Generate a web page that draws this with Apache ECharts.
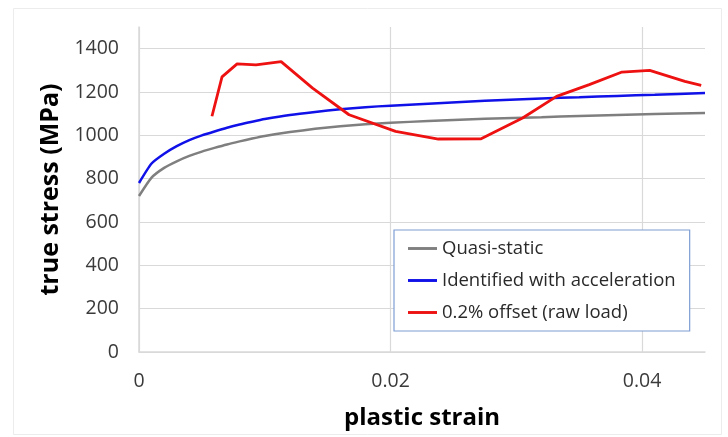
<!DOCTYPE html>
<html>
<head>
<meta charset="utf-8">
<script src="https://cdn.jsdelivr.net/npm/echarts@6/dist/echarts.min.js"></script>
<style>
html,body{margin:0;padding:0;background:#fff;}
#chart{width:728px;height:437px;}
</style>
</head>
<body>
<div id="chart"></div>
<script>
// ---- data ----
const quasiStrain = [0,0.001,0.002,0.003,0.004,0.005,0.006,0.007,0.008,0.009,0.010,0.012,0.014,0.016,0.018,0.020,0.023,0.026,0.029,0.032,0.035,0.038,0.041,0.045];
const quasiStress = [720,805,850,880,905,925,942,958,972,985,997,1015,1030,1042,1051,1058,1066,1073,1079,1084,1089,1094,1098,1103];

const accelStrain = [0,0.001,0.002,0.003,0.004,0.005,0.006,0.007,0.008,0.009,0.010,0.012,0.014,0.016,0.018,0.020,0.023,0.026,0.029,0.032,0.035,0.038,0.041,0.045];
const accelStress = [780,870,915,950,978,1000,1018,1035,1050,1063,1075,1094,1108,1120,1130,1137,1146,1155,1163,1170,1176,1182,1187,1195];

const offsetStrain = [0.0058,0.0066,0.0078,0.0093,0.0113,0.0138,0.0167,0.0204,0.0238,0.0272,0.0305,0.0332,0.0358,0.0384,0.0406,0.0434,0.0447];
const offsetStress = [1088,1270,1330,1325,1340,1218,1095,1018,983,984,1080,1180,1234,1292,1300,1249,1231];

const seriesNames = ['Quasi-static','Identified with acceleration','0.2% offset (raw load)'];
const xTickLabels = ['0','0.02','0.04'];
const yTickLabels = ['0','200','400','600','800','1000','1200','1400'];

const zip = (xs, ys) => xs.map((x, i) => [x, ys[i]]);

const chart = echarts.init(document.getElementById('chart'));
const gridColor = '#d9d9d9';
const labelColor = '#3a3a3a';
const font = '"Open Sans", "Liberation Sans", sans-serif';

chart.setOption({
  animation: false,
  backgroundColor: '#fff',
  graphic: [{
    type: 'rect', left: 11, top: 6, z: -10,
    shape: {width: 708, height: 426},
    style: {fill: 'none', stroke: '#ececec', lineWidth: 1}
  }],
  grid: {left: 139, right: 23, top: 27, bottom: 85},
  legend: {
    orient: 'vertical',
    left: 394, top: 230,
    padding: [9, 14, 9, 14],
    itemGap: 13,
    itemWidth: 29, itemHeight: 18,
    backgroundColor: '#fff',
    borderColor: '#7f9ed4', borderWidth: 1.2, borderRadius: 0,
    textStyle: {fontFamily: font, fontSize: 18.5, color: '#2a2a2a'},
    data: seriesNames.map(n => ({name: n, icon: 'path://M0,0 L10,0 L10,1 L0,1 Z'}))
  },
  xAxis: {
    type: 'value', min: 0, max: 0.045, interval: 0.02,
    name: 'plastic strain', nameLocation: 'middle', nameGap: 54,
    nameTextStyle: {fontFamily: font, fontSize: 24, fontWeight: 'bold', color: '#000'},
    axisLine: {show: true, lineStyle: {color: gridColor, width: 1.5}},
    axisTick: {show: false},
    axisLabel: {
      fontFamily: font, fontSize: 19.5, color: labelColor, margin: 19, showMaxLabel: false,
      formatter: v => { const i = Math.round(v / 0.02); return Math.abs(v - i * 0.02) < 1e-9 ? (xTickLabels[i] || '') : ''; }
    },
    splitLine: {show: true, lineStyle: {color: [gridColor, gridColor, gridColor, 'rgba(0,0,0,0)'], width: 1.2}}
  },
  yAxis: {
    type: 'value', min: 0, max: 1500, interval: 100,
    name: 'true stress (MPa)', nameLocation: 'middle', nameGap: 74,
    nameTextStyle: {fontFamily: font, fontSize: 25, fontWeight: 'bold', color: '#000'},
    axisLine: {show: true, lineStyle: {color: gridColor, width: 1.5}},
    axisTick: {show: false},
    axisLabel: {
      fontFamily: font, fontSize: 19.5, color: labelColor, margin: 20,
      formatter: v => (Math.round(v) % 200 === 0 ? (yTickLabels[Math.round(v) / 200] || '') : '')
    },
    splitLine: {show: true, lineStyle: {color: [gridColor, 'rgba(0,0,0,0)'], width: 1.2}}
  },
  series: [
    {name: seriesNames[0], type: 'line', data: zip(quasiStrain, quasiStress), symbol: 'none', smooth: 0.2,
     lineStyle: {color: '#7f7f7f', width: 2.5}, itemStyle: {color: '#7f7f7f'}},
    {name: seriesNames[1], type: 'line', data: zip(accelStrain, accelStress), symbol: 'none', smooth: 0.2,
     lineStyle: {color: '#1010e8', width: 2.5}, itemStyle: {color: '#1010e8'}},
    {name: seriesNames[2], type: 'line', data: zip(offsetStrain, offsetStress), symbol: 'none',
     lineStyle: {color: '#ee1111', width: 2.8}, itemStyle: {color: '#ee1111'}}
  ]
});
</script>
</body>
</html>
